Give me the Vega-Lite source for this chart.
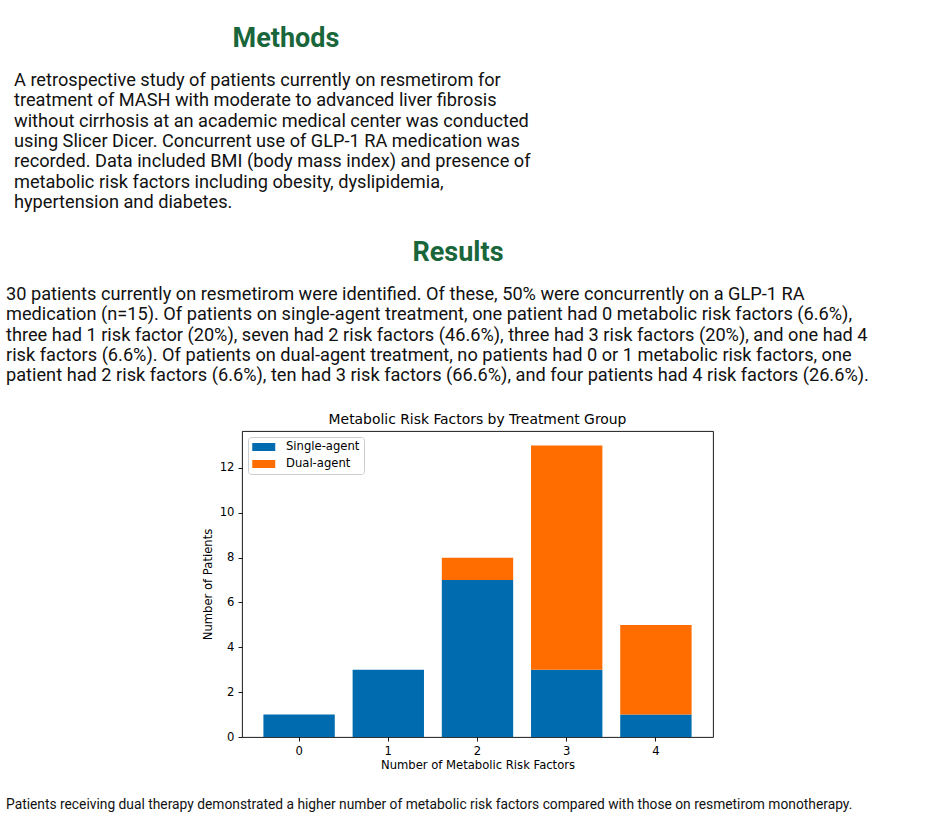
{
  "$schema": "https://vega.github.io/schema/vega-lite/v6.json",
  "padding": {"top": 25, "left": 0, "right": 0, "bottom": 0},
  "background": "#ffffff",
  "spacing": 26,
  "resolve": {"scale": {"color": "independent"}, "legend": {"color": "independent"}},
  "config": {
    "view": {"stroke": null},
    "font": "Roboto",
    "axis": {
      "labelFont": "DejaVu Sans",
      "labelFontSize": 11.6,
      "labelColor": "#000000",
      "titleFont": "DejaVu Sans",
      "titleFontSize": 11.6,
      "titleFontWeight": "normal",
      "titleColor": "#000000",
      "tickColor": "#000000",
      "tickSize": 4,
      "tickWidth": 0.9,
      "labelPadding": 4,
      "grid": false,
      "domain": false
    }
  },
  "vconcat": [
    {
      "width": 572,
      "height": 142,
      "title": {"text": "Methods", "font": "Roboto", "fontSize": 27, "fontWeight": "bold", "color": "#19663a", "anchor": "middle", "offset": 18},
      "data": {"values": [
        {"line": 1, "text": "A retrospective study of patients currently on resmetirom for"},
        {"line": 2, "text": "treatment of MASH with moderate to advanced liver fibrosis"},
        {"line": 3, "text": "without cirrhosis at an academic medical center was conducted"},
        {"line": 4, "text": "using Slicer Dicer. Concurrent use of GLP-1 RA medication was"},
        {"line": 5, "text": "recorded. Data included BMI (body mass index) and presence of"},
        {"line": 6, "text": "metabolic risk factors including obesity, dyslipidemia,"},
        {"line": 7, "text": "hypertension and diabetes."}
      ]},
      "mark": {"type": "text", "align": "left", "baseline": "middle", "font": "Roboto", "fontSize": 18.2, "color": "#111111"},
      "encoding": {
        "y": {"field": "line", "type": "ordinal", "axis": null, "scale": {"type": "point", "padding": 0.5}},
        "x": {"value": 14},
        "text": {"field": "text"}
      }
    },
    {
      "width": 916,
      "height": 101,
      "title": {"text": "Results", "font": "Roboto", "fontSize": 27, "fontWeight": "bold", "color": "#19663a", "anchor": "middle", "offset": 18},
      "data": {"values": [
        {"line": 1, "text": "30 patients currently on resmetirom were identified. Of these, 50% were concurrently on a GLP-1 RA"},
        {"line": 2, "text": "medication (n=15).  Of patients on single-agent treatment, one patient had 0 metabolic risk factors (6.6%),"},
        {"line": 3, "text": "three had 1 risk factor (20%), seven had 2 risk factors (46.6%), three had 3 risk factors (20%), and one had 4"},
        {"line": 4, "text": "risk factors (6.6%). Of patients on dual-agent treatment, no patients had 0 or 1 metabolic risk factors, one"},
        {"line": 5, "text": "patient had 2 risk factors (6.6%), ten had 3 risk factors (66.6%), and four patients had 4 risk factors (26.6%)."}
      ]},
      "mark": {"type": "text", "align": "left", "baseline": "middle", "font": "Roboto", "fontSize": 18.2, "color": "#111111"},
      "encoding": {
        "y": {"field": "line", "type": "ordinal", "axis": null, "scale": {"type": "point", "padding": 0.5}},
        "x": {"value": 6},
        "text": {"field": "text"}
      }
    },
    {
      "spacing": 0,
      "resolve": {"scale": {"color": "independent"}, "legend": {"color": "independent"}},
      "hconcat": [
        {
          "width": 201,
          "height": 10,
          "data": {"values": []},
          "mark": {"type": "text"},
          "encoding": {}
        },
        {
          "width": 471,
          "height": 306,
          "view": {"stroke": "#000000", "strokeWidth": 0.9},
          "title": {"text": "Metabolic Risk Factors by Treatment Group", "font": "DejaVu Sans", "fontSize": 13.9, "fontWeight": "normal", "color": "#000000", "anchor": "middle", "offset": 4},
          "data": {"values": [
            {"risk": 0, "group": "Single-agent", "patients": 1},
            {"risk": 1, "group": "Single-agent", "patients": 3},
            {"risk": 2, "group": "Single-agent", "patients": 7},
            {"risk": 3, "group": "Single-agent", "patients": 3},
            {"risk": 4, "group": "Single-agent", "patients": 1},
            {"risk": 0, "group": "Dual-agent", "patients": 0},
            {"risk": 1, "group": "Dual-agent", "patients": 0},
            {"risk": 2, "group": "Dual-agent", "patients": 1},
            {"risk": 3, "group": "Dual-agent", "patients": 10},
            {"risk": 4, "group": "Dual-agent", "patients": 4}
          ]},
          "mark": {"type": "bar"},
          "encoding": {
            "x": {
              "field": "risk", "type": "ordinal",
              "scale": {"paddingInner": 0.2, "paddingOuter": 0.24},
              "axis": {"labelAngle": 0, "title": "Number of Metabolic Risk Factors", "titlePadding": 3}
            },
            "y": {
              "field": "patients", "type": "quantitative", "stack": "zero",
              "scale": {"domain": [0, 13.65], "nice": false},
              "axis": {"values": [0, 2, 4, 6, 8, 10, 12], "title": "Number of Patients", "titlePadding": 6}
            },
            "color": {
              "field": "group", "type": "nominal",
              "scale": {"domain": ["Single-agent", "Dual-agent"], "range": ["#006bae", "#ff6d00"]},
              "legend": {
                "orient": "top-left", "offset": 6, "title": null,
                "symbolType": "M-1,-0.7L3,-0.7L3,0.7L-1,0.7Z", "symbolSize": 132,
                "symbolStrokeWidth": 0, "symbolOpacity": 1,
                "labelFont": "DejaVu Sans", "labelFontSize": 11.6, "labelColor": "#000000",
                "labelOffset": 22, "padding": 4, "rowPadding": 5,
                "strokeColor": "#cccccc", "fillColor": "#ffffff", "cornerRadius": 3
              }
            },
            "order": {"field": "group", "sort": "descending"}
          }
        }
      ]
    },
    {
      "width": 928,
      "height": 12,
      "data": {"values": [
        {"line": 1, "text": "Patients receiving dual therapy demonstrated a higher number of metabolic risk factors compared with those on resmetirom monotherapy."}
      ]},
      "mark": {"type": "text", "align": "left", "baseline": "middle", "font": "Roboto", "fontSize": 13.8, "color": "#111111"},
      "encoding": {
        "y": {"field": "line", "type": "ordinal", "axis": null, "scale": {"type": "point", "padding": 0.5}},
        "x": {"value": 6},
        "text": {"field": "text"}
      }
    }
  ]
}
